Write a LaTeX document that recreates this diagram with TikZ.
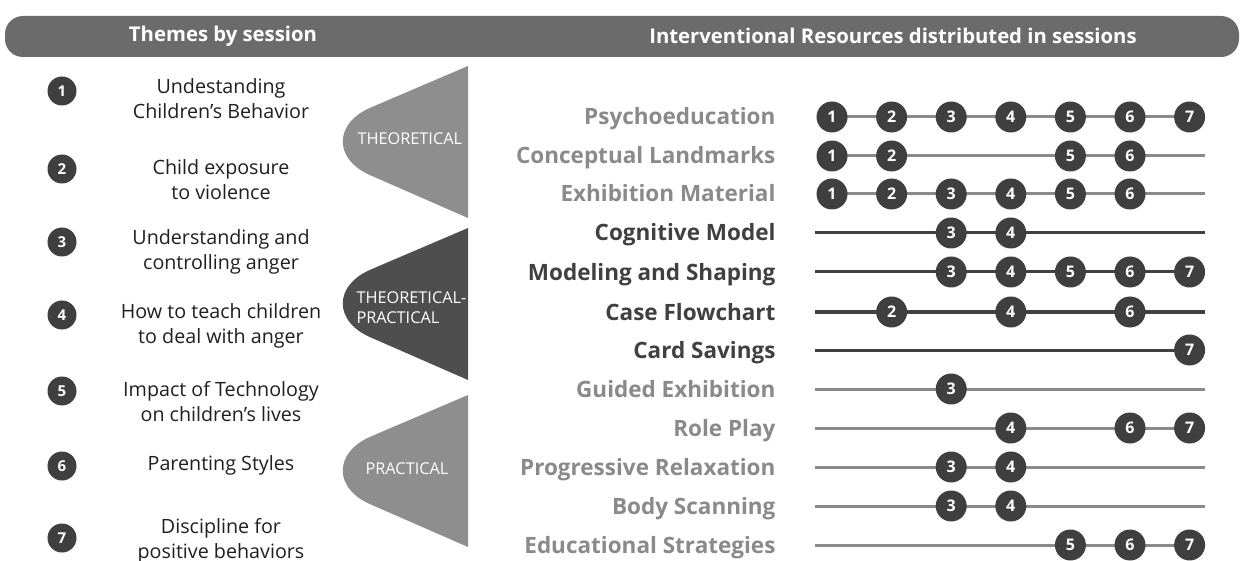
\documentclass[tikz,border=0pt]{standalone}
\usepackage{fontspec}
\setmainfont{Open Sans}
\usetikzlibrary{positioning}
\definecolor{bandgray}{HTML}{6B6B6B}
\definecolor{dotgray}{HTML}{3F3F3F}
\definecolor{litegray}{HTML}{8A8A8A}
\definecolor{deepgray}{HTML}{404040}
\definecolor{conegray}{HTML}{8E8E8E}
\definecolor{conedark}{HTML}{4E4E4E}

\begin{document}
\begin{tikzpicture}[x=1pt, y=-1pt,
    band/.style={fill=bandgray, rounded corners=18pt},
    hdr/.style={text=white, font=\fontsize{20.3}{22}\selectfont\bfseries},
    num/.style={circle, fill=dotgray, text=white, inner sep=0pt, minimum size=29pt, font=\fontsize{15}{15}\selectfont\bfseries},
    theme/.style={align=center, text=black!88, font=\fontsize{19.7}{25}\selectfont},
    res/.style={anchor=base east, font=\fontsize{22.5}{24}\selectfont\bfseries},
    dot/.style={circle, fill=dotgray, text=white, inner sep=0pt, minimum size=31pt, font=\fontsize{16}{16}\selectfont\bfseries},
    conelab/.style={text=white, font=\fontsize{16.3}{20}\selectfont, align=left},
    track/.style={line width=3pt},
  ]
  \useasboundingbox (0,0) rectangle (1242,561);

  % header band
  \fill[band] (5,16) rectangle (1239,57);
  \node[hdr] (hthemes) at (223,36) {Themes by session};
  \node[hdr] (hres) at (893,36) {Interventional Resources distributed in sessions};

  % themes by session
  \foreach \n/\ny/\ty/\txt in {1/91/99/{Undestanding\\Children’s Behavior},
      2/169/180/{Child exposure\\to violence},
      3/242/252/{Understanding and\\controlling anger},
      4/315/326/{How to teach children\\to deal with anger},
      5/391/402/{Impact of Technology\\on children’s lives},
      6/466/465/{Parenting Styles},
      7/538/541/{Discipline for\\positive behaviors}}{
    \node[num] (s\n) at (62,\ny) {\n};
    \node[theme] (t\n) at (221,\ty) {\txt};
  }

  % cones
  \foreach \yo/\col in {66/conegray, 228/conedark, 395/conegray}{
    \fill[\col] (468,\yo) -- (372,\yo+41)
      .. controls (333,\yo+57) and (333,\yo+94) .. (372,\yo+110)
      -- (468,\yo+152) -- cycle;
  }
  \node[conelab, anchor=west] (cth) at (354,139) {THEORETICAL};
  \node[conelab, anchor=west] (ctp) at (353,308) {THEORETICAL-\\PRACTICAL};
  \node[conelab] (cpr) at (407,469) {PRACTICAL};

  % resources
  \foreach \r/\yy/\tc/\txt/\ses/\xa/\xb in {
      1/117/litegray/Psychoeducation/{1,2,3,4,5,6,7}/832/1190,
      2/156/litegray/Conceptual Landmarks/{1,2,5,6}/832/1205,
      3/194/litegray/Exhibition Material/{1,2,3,4,5,6}/832/1205,
      4/233/deepgray/Cognitive Model/{3,4}/815/1205,
      5/272/deepgray/Modeling and Shaping/{3,4,5,6,7}/815/1190,
      6/312/deepgray/Case Flowchart/{2,4,6}/815/1205,
      7/350/deepgray/Card Savings/{7}/815/1190,
      8/389/litegray/Guided Exhibition/{3}/815/1205,
      9/428/litegray/Role Play/{4,6,7}/815/1190,
      10/467/litegray/Progressive Relaxation/{3,4}/815/1205,
      11/506/litegray/Body Scanning/{3,4}/815/1205,
      12/545/litegray/Educational Strategies/{5,6,7}/815/1190}{
    \node[res, text=\tc] (lab\r) at (779,\yy+8) {\txt};
    \coordinate (rs\r) at (\xa,\yy);
    \coordinate (re\r) at (\xb,\yy);
    \draw[track, \tc] (rs\r) -- (re\r);
    \foreach \s in \ses{
      \node[dot] (d\r-\s) at ({832+(\s-1)*59.6},\yy) {\s};
    }
  }
\end{tikzpicture}
\end{document}
